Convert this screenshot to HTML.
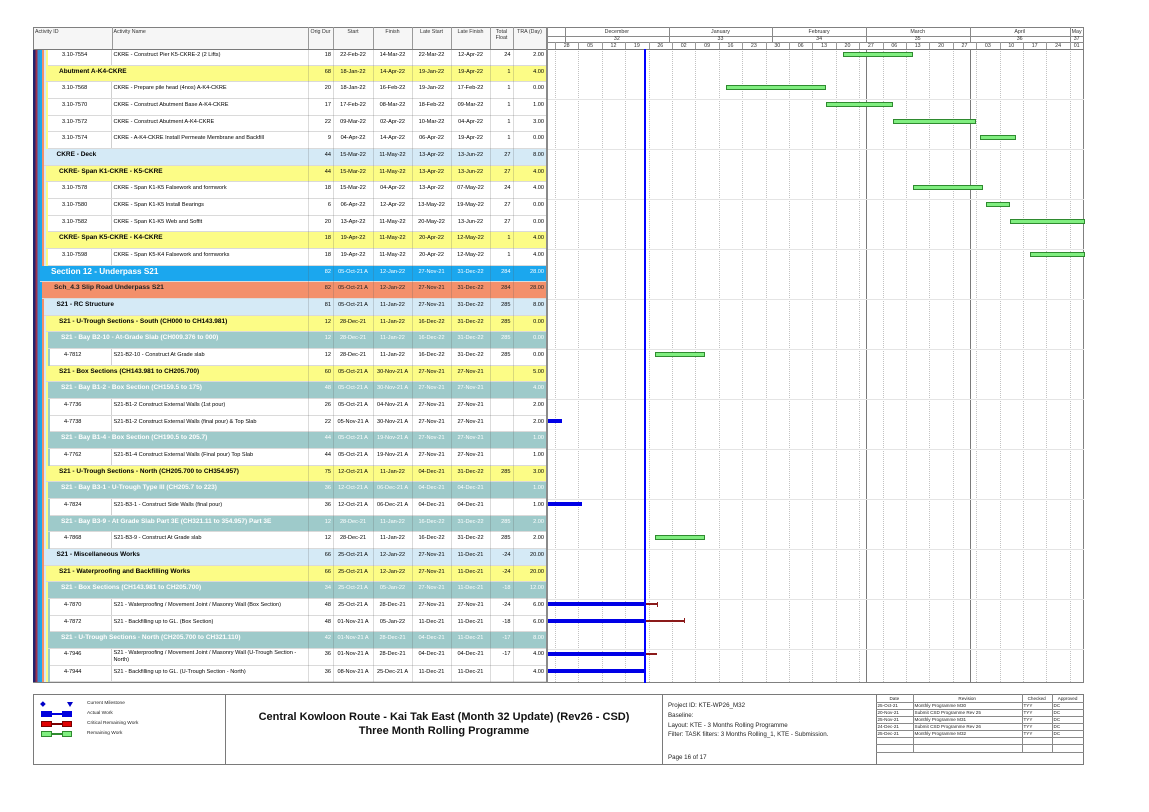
<!DOCTYPE html>
<html>
<head>
<meta charset="utf-8">
<style>
body{margin:0;background:#fff;}
#p{position:relative;width:1149px;height:812px;overflow:hidden;font-family:"Liberation Sans",Arial,sans-serif;color:#000;background:#fff;}
.a{position:absolute;}
.r{position:absolute;left:33px;width:513px;height:16.67px;box-sizing:border-box;border-bottom:1px solid #dadada;font-size:5.6px;}
.r span{position:absolute;top:2px;line-height:8px;white-space:nowrap;}
.bd{position:absolute;left:0;top:0;bottom:-1px;z-index:2;background:linear-gradient(90deg,#23226c 0 2.5px,#9c2f4e 2.5px 4.5px,#3790d6 4.5px 7px,#1ba7ee 7px 9px,#f3906b 9px 11px,#d5eaf6 11px 13px,#fcfc86 13px 15px,#9ecaca 15px 17px);}
.w{background-color:#fff;background-image:linear-gradient(90deg,transparent 78px,#d0d0d0 78px 79px,transparent 79px);}
.y{background:#fcfc86;}
.lb{background:#d5eaf6;}
.tl{background:#9ecaca;color:#fff;}
.sa{background:#f3906b;color:#222;}
.sc{background:#1ba7ee;color:#fff;}
.r span.g{font-weight:bold;font-size:6.5px;}
.r span.gs{font-weight:bold;font-size:6.8px;}
.r span.gx{font-weight:bold;font-size:8.2px;line-height:10px;top:1.5px;}
.r span.nm{left:80.5px;}
.r span.c2{left:275px;width:23px;text-align:right;}
.r span.c3{left:300px;width:40px;text-align:center;}
.r span.c4{left:340px;width:39px;text-align:center;}
.r span.c5{left:379px;width:39px;text-align:center;}
.r span.c6{left:418px;width:39px;text-align:center;}
.r span.c7{left:457px;width:20.5px;text-align:right;}
.r span.c8{left:480px;width:31px;text-align:right;}
.vd{position:absolute;top:49px;height:633.3px;width:1px;background:rgba(90,90,90,.22);z-index:3;}
.hv{position:absolute;top:27px;height:22px;width:1px;background:#9a9a9a;}
.ht{position:absolute;font-size:5.3px;line-height:6px;color:#333;white-space:nowrap;}
.wk{position:absolute;top:49px;height:633.3px;width:0;border-left:1px dotted #c2c2c2;}
.wh{position:absolute;top:42px;height:7px;width:1px;background:#9a9a9a;}
.mh{position:absolute;top:27px;height:15px;width:1px;background:#8a8a8a;}
.gl{position:absolute;left:546px;width:537.5px;height:1px;background:#e4e4e4;}
.gb{position:absolute;height:3px;background:#80ee80;border:1px solid #2f8a2f;}
.bb{position:absolute;height:4px;background:#0000e6;left:546px;}
.rl{position:absolute;height:1.5px;background:#8b1a1a;left:646px;}
.rc{position:absolute;width:1.5px;height:5px;background:#8b1a1a;}
.lt{position:absolute;font-size:4.8px;line-height:6px;color:#222;white-space:nowrap;}
.ft{position:absolute;font-size:6.2px;line-height:8px;color:#222;white-space:nowrap;left:668px;}
.rt{position:absolute;font-size:4.6px;line-height:7px;color:#222;white-space:nowrap;}
.rh{position:absolute;left:876px;width:207.5px;height:1px;background:#8a8a8a;}
</style>
</head>
<body>
<div id="p">

<!-- outer border -->
<div class="a" style="left:33px;top:27px;width:1050.5px;height:655.5px;border:1px solid #808080;box-sizing:border-box;"></div>
<!-- table header bg -->
<div class="a" style="left:34px;top:28px;width:512px;height:21px;background:#f6f6f6;"></div>
<div class="a" style="left:33px;top:49px;width:1050.5px;height:1px;background:#7a7a7a;z-index:4;"></div>
<!-- header dividers -->
<div class="hv" style="left:111.5px"></div>
<div class="hv" style="left:308px"></div>
<div class="hv" style="left:333px"></div>
<div class="hv" style="left:373px"></div>
<div class="hv" style="left:412px"></div>
<div class="hv" style="left:451px"></div>
<div class="hv" style="left:490px"></div>
<div class="hv" style="left:513px"></div>
<!-- header text -->
<div class="ht" style="left:35px;top:28.5px;">Activity ID</div>
<div class="ht" style="left:113.5px;top:28.5px;">Activity Name</div>
<div class="ht" style="left:308px;width:25px;text-align:center;top:28.5px;">Orig Dur</div>
<div class="ht" style="left:333px;width:40px;text-align:center;top:28.5px;">Start</div>
<div class="ht" style="left:373px;width:39px;text-align:center;top:28.5px;">Finish</div>
<div class="ht" style="left:412px;width:39px;text-align:center;top:28.5px;">Late Start</div>
<div class="ht" style="left:451px;width:39px;text-align:center;top:28.5px;">Late Finish</div>
<div class="ht" style="left:490px;width:23px;text-align:center;top:28.5px;">Total<br>Float</div>
<div class="ht" style="left:513px;width:33px;text-align:center;top:28.5px;">TRA (Day)</div>

<!-- gantt header lines -->
<div class="a" style="left:546px;top:27px;width:1.5px;height:655.5px;background:#8a8a8a;z-index:4;"></div>
<div class="a" style="left:546px;top:36px;width:537.5px;height:1px;background:#8a8a8a;"></div>
<div class="a" style="left:546px;top:42px;width:537.5px;height:1px;background:#8a8a8a;"></div>
<div class="mh" style="left:565px"></div>
<div class="mh" style="left:668.7px"></div>
<div class="mh" style="left:772.3px"></div>
<div class="mh" style="left:865.9px"></div>
<div class="mh" style="left:969.5px"></div>
<div class="mh" style="left:1069.8px"></div>
<div class="ht" style="left:565px;width:103.7px;text-align:center;top:28.5px;">December</div>
<div class="ht" style="left:668.7px;width:103.6px;text-align:center;top:28.5px;">January</div>
<div class="ht" style="left:772.3px;width:93.6px;text-align:center;top:28.5px;">February</div>
<div class="ht" style="left:865.9px;width:103.6px;text-align:center;top:28.5px;">March</div>
<div class="ht" style="left:969.5px;width:100.3px;text-align:center;top:28.5px;">April</div>
<div class="ht" style="left:1069.8px;width:13.7px;text-align:center;top:28.5px;">May</div>
<div class="ht" style="left:565px;width:103.7px;text-align:center;top:36.2px;">32</div>
<div class="ht" style="left:668.7px;width:103.6px;text-align:center;top:36.2px;">33</div>
<div class="ht" style="left:772.3px;width:93.6px;text-align:center;top:36.2px;">34</div>
<div class="ht" style="left:865.9px;width:103.6px;text-align:center;top:36.2px;">35</div>
<div class="ht" style="left:969.5px;width:100.3px;text-align:center;top:36.2px;">36</div>
<div class="ht" style="left:1069.8px;width:13.7px;text-align:center;top:36.2px;">37</div>

<!-- week header dividers and labels -->
<div class="wh" style="left:555px"></div><div class="wh" style="left:578.4px"></div><div class="wh" style="left:601.8px"></div><div class="wh" style="left:625.2px"></div><div class="wh" style="left:648.6px"></div><div class="wh" style="left:672px"></div><div class="wh" style="left:695.4px"></div><div class="wh" style="left:718.8px"></div><div class="wh" style="left:742.2px"></div><div class="wh" style="left:765.6px"></div><div class="wh" style="left:789px"></div><div class="wh" style="left:812.4px"></div><div class="wh" style="left:835.8px"></div><div class="wh" style="left:859.2px"></div><div class="wh" style="left:882.6px"></div><div class="wh" style="left:906px"></div><div class="wh" style="left:929.4px"></div><div class="wh" style="left:952.8px"></div><div class="wh" style="left:976.2px"></div><div class="wh" style="left:999.6px"></div><div class="wh" style="left:1023px"></div><div class="wh" style="left:1046.4px"></div><div class="wh" style="left:1069.8px"></div>
<div class="ht" style="top:42.7px;left:555px;width:23.4px;text-align:center;">28</div>
<div class="ht" style="top:42.7px;left:578.4px;width:23.4px;text-align:center;">05</div>
<div class="ht" style="top:42.7px;left:601.8px;width:23.4px;text-align:center;">12</div>
<div class="ht" style="top:42.7px;left:625.2px;width:23.4px;text-align:center;">19</div>
<div class="ht" style="top:42.7px;left:648.6px;width:23.4px;text-align:center;">26</div>
<div class="ht" style="top:42.7px;left:672px;width:23.4px;text-align:center;">02</div>
<div class="ht" style="top:42.7px;left:695.4px;width:23.4px;text-align:center;">09</div>
<div class="ht" style="top:42.7px;left:718.8px;width:23.4px;text-align:center;">16</div>
<div class="ht" style="top:42.7px;left:742.2px;width:23.4px;text-align:center;">23</div>
<div class="ht" style="top:42.7px;left:765.6px;width:23.4px;text-align:center;">30</div>
<div class="ht" style="top:42.7px;left:789px;width:23.4px;text-align:center;">06</div>
<div class="ht" style="top:42.7px;left:812.4px;width:23.4px;text-align:center;">13</div>
<div class="ht" style="top:42.7px;left:835.8px;width:23.4px;text-align:center;">20</div>
<div class="ht" style="top:42.7px;left:859.2px;width:23.4px;text-align:center;">27</div>
<div class="ht" style="top:42.7px;left:882.6px;width:23.4px;text-align:center;">06</div>
<div class="ht" style="top:42.7px;left:906px;width:23.4px;text-align:center;">13</div>
<div class="ht" style="top:42.7px;left:929.4px;width:23.4px;text-align:center;">20</div>
<div class="ht" style="top:42.7px;left:952.8px;width:23.4px;text-align:center;">27</div>
<div class="ht" style="top:42.7px;left:976.2px;width:23.4px;text-align:center;">03</div>
<div class="ht" style="top:42.7px;left:999.6px;width:23.4px;text-align:center;">10</div>
<div class="ht" style="top:42.7px;left:1023px;width:23.4px;text-align:center;">17</div>
<div class="ht" style="top:42.7px;left:1046.4px;width:23.4px;text-align:center;">24</div>
<div class="ht" style="top:42.7px;left:1069.8px;width:13.7px;text-align:center;">01</div>

<!-- gantt body grid -->
<div class="wk" style="left:555px"></div><div class="wk" style="left:578.4px"></div><div class="wk" style="left:601.8px"></div><div class="wk" style="left:625.2px"></div><div class="wk" style="left:648.6px"></div><div class="wk" style="left:672px"></div><div class="wk" style="left:695.4px"></div><div class="wk" style="left:718.8px"></div><div class="wk" style="left:742.2px"></div><div class="wk" style="left:765.6px"></div><div class="wk" style="left:789px"></div><div class="wk" style="left:812.4px"></div><div class="wk" style="left:835.8px"></div><div class="wk" style="left:859.2px"></div><div class="wk" style="left:882.6px"></div><div class="wk" style="left:906px"></div><div class="wk" style="left:929.4px"></div><div class="wk" style="left:952.8px"></div><div class="wk" style="left:976.2px"></div><div class="wk" style="left:999.6px"></div><div class="wk" style="left:1023px"></div><div class="wk" style="left:1046.4px"></div><div class="wk" style="left:1069.8px"></div>
<div class="a" style="left:865.9px;top:49px;width:1px;height:633.3px;background:#7a7a7a;"></div>
<div class="a" style="left:969.5px;top:49px;width:1px;height:633.3px;background:#7a7a7a;"></div>
<div class="gl" style="top:99px"></div><div class="gl" style="top:149px"></div><div class="gl" style="top:199px"></div><div class="gl" style="top:249px"></div><div class="gl" style="top:299px"></div><div class="gl" style="top:349px"></div><div class="gl" style="top:399px"></div><div class="gl" style="top:449px"></div><div class="gl" style="top:499px"></div><div class="gl" style="top:549px"></div><div class="gl" style="top:599px"></div><div class="gl" style="top:649px"></div>

<!-- table rows -->
<div class="r w" style="top:49px"><i class="bd" style="width:15px"></i><span style="left:29px">3.10-7554</span><span class="nm">CKRE - Construct Pier K5-CKRE-2 (2 Lifts)</span><span class="c2">18</span><span class="c3">22-Feb-22</span><span class="c4">14-Mar-22</span><span class="c5">22-Mar-22</span><span class="c6">12-Apr-22</span><span class="c7">24</span><span class="c8">2.00</span></div>
<div class="r y" style="top:65.67px"><i class="bd" style="width:13px"></i><span class="g" style="left:26px">Abutment A-K4-CKRE</span><span class="c2">68</span><span class="c3">18-Jan-22</span><span class="c4">14-Apr-22</span><span class="c5">19-Jan-22</span><span class="c6">19-Apr-22</span><span class="c7">1</span><span class="c8">4.00</span></div>
<div class="r w" style="top:82.33px"><i class="bd" style="width:15px"></i><span style="left:29px">3.10-7568</span><span class="nm">CKRE - Prepare pile head (4nos) A-K4-CKRE</span><span class="c2">20</span><span class="c3">18-Jan-22</span><span class="c4">16-Feb-22</span><span class="c5">19-Jan-22</span><span class="c6">17-Feb-22</span><span class="c7">1</span><span class="c8">0.00</span></div>
<div class="r w" style="top:99px"><i class="bd" style="width:15px"></i><span style="left:29px">3.10-7570</span><span class="nm">CKRE - Construct Abutment Base A-K4-CKRE</span><span class="c2">17</span><span class="c3">17-Feb-22</span><span class="c4">08-Mar-22</span><span class="c5">18-Feb-22</span><span class="c6">09-Mar-22</span><span class="c7">1</span><span class="c8">1.00</span></div>
<div class="r w" style="top:115.67px"><i class="bd" style="width:15px"></i><span style="left:29px">3.10-7572</span><span class="nm">CKRE - Construct Abutment A-K4-CKRE</span><span class="c2">22</span><span class="c3">09-Mar-22</span><span class="c4">02-Apr-22</span><span class="c5">10-Mar-22</span><span class="c6">04-Apr-22</span><span class="c7">1</span><span class="c8">3.00</span></div>
<div class="r w" style="top:132.33px"><i class="bd" style="width:15px"></i><span style="left:29px">3.10-7574</span><span class="nm">CKRE - A-K4-CKRE Install Permeate Membrane and Backfill</span><span class="c2">9</span><span class="c3">04-Apr-22</span><span class="c4">14-Apr-22</span><span class="c5">06-Apr-22</span><span class="c6">19-Apr-22</span><span class="c7">1</span><span class="c8">0.00</span></div>
<div class="r lb" style="top:149px"><i class="bd" style="width:11px"></i><span class="g" style="left:23.5px">CKRE - Deck</span><span class="c2">44</span><span class="c3">15-Mar-22</span><span class="c4">11-May-22</span><span class="c5">13-Apr-22</span><span class="c6">13-Jun-22</span><span class="c7">27</span><span class="c8">8.00</span></div>
<div class="r y" style="top:165.67px"><i class="bd" style="width:13px"></i><span class="g" style="left:26px">CKRE- Span K1-CKRE - K5-CKRE</span><span class="c2">44</span><span class="c3">15-Mar-22</span><span class="c4">11-May-22</span><span class="c5">13-Apr-22</span><span class="c6">13-Jun-22</span><span class="c7">27</span><span class="c8">4.00</span></div>
<div class="r w" style="top:182.33px"><i class="bd" style="width:15px"></i><span style="left:29px">3.10-7578</span><span class="nm">CKRE - Span K1-K5 Falsework and formwork</span><span class="c2">18</span><span class="c3">15-Mar-22</span><span class="c4">04-Apr-22</span><span class="c5">13-Apr-22</span><span class="c6">07-May-22</span><span class="c7">24</span><span class="c8">4.00</span></div>
<div class="r w" style="top:199px"><i class="bd" style="width:15px"></i><span style="left:29px">3.10-7580</span><span class="nm">CKRE - Span K1-K5 Install Bearings</span><span class="c2">6</span><span class="c3">06-Apr-22</span><span class="c4">12-Apr-22</span><span class="c5">13-May-22</span><span class="c6">19-May-22</span><span class="c7">27</span><span class="c8">0.00</span></div>
<div class="r w" style="top:215.67px"><i class="bd" style="width:15px"></i><span style="left:29px">3.10-7582</span><span class="nm">CKRE - Span K1-K5 Web and Soffit</span><span class="c2">20</span><span class="c3">13-Apr-22</span><span class="c4">11-May-22</span><span class="c5">20-May-22</span><span class="c6">13-Jun-22</span><span class="c7">27</span><span class="c8">0.00</span></div>
<div class="r y" style="top:232.33px"><i class="bd" style="width:13px"></i><span class="g" style="left:26px">CKRE- Span K5-CKRE - K4-CKRE</span><span class="c2">18</span><span class="c3">19-Apr-22</span><span class="c4">11-May-22</span><span class="c5">20-Apr-22</span><span class="c6">12-May-22</span><span class="c7">1</span><span class="c8">4.00</span></div>
<div class="r w" style="top:249px"><i class="bd" style="width:15px"></i><span style="left:29px">3.10-7598</span><span class="nm">CKRE - Span K5-K4 Falsework and formworks</span><span class="c2">18</span><span class="c3">19-Apr-22</span><span class="c4">11-May-22</span><span class="c5">20-Apr-22</span><span class="c6">12-May-22</span><span class="c7">1</span><span class="c8">4.00</span></div>
<div class="r sc" style="top:265.67px"><i class="bd" style="width:7px"></i><span class="gx" style="left:18px">Section 12 - Underpass S21</span><span class="c2">82</span><span class="c3">05-Oct-21 A</span><span class="c4">12-Jan-22</span><span class="c5">27-Nov-21</span><span class="c6">31-Dec-22</span><span class="c7">284</span><span class="c8">28.00</span></div>
<div class="r sa" style="top:282.33px"><i class="bd" style="width:9px"></i><span class="gs" style="left:21px">Sch_4.3 Slip Road Underpass S21</span><span class="c2">82</span><span class="c3">05-Oct-21 A</span><span class="c4">12-Jan-22</span><span class="c5">27-Nov-21</span><span class="c6">31-Dec-22</span><span class="c7">284</span><span class="c8">28.00</span></div>
<div class="r lb" style="top:299px"><i class="bd" style="width:11px"></i><span class="g" style="left:23.5px">S21 - RC Structure</span><span class="c2">81</span><span class="c3">05-Oct-21 A</span><span class="c4">11-Jan-22</span><span class="c5">27-Nov-21</span><span class="c6">31-Dec-22</span><span class="c7">285</span><span class="c8">8.00</span></div>
<div class="r y" style="top:315.67px"><i class="bd" style="width:13px"></i><span class="g" style="left:26px">S21 - U-Trough Sections - South (CH000 to CH143.981)</span><span class="c2">12</span><span class="c3">28-Dec-21</span><span class="c4">11-Jan-22</span><span class="c5">16-Dec-22</span><span class="c6">31-Dec-22</span><span class="c7">285</span><span class="c8">0.00</span></div>
<div class="r tl" style="top:332.33px"><i class="bd" style="width:15px"></i><span class="g" style="left:28px">S21 - Bay B2-10 - At-Grade Slab (CH009.376 to 000)</span><span class="c2">12</span><span class="c3">28-Dec-21</span><span class="c4">11-Jan-22</span><span class="c5">16-Dec-22</span><span class="c6">31-Dec-22</span><span class="c7">285</span><span class="c8">0.00</span></div>
<div class="r w" style="top:349px"><i class="bd" style="width:17px"></i><span style="left:31px">4-7812</span><span class="nm">S21-B2-10 - Construct At Grade slab</span><span class="c2">12</span><span class="c3">28-Dec-21</span><span class="c4">11-Jan-22</span><span class="c5">16-Dec-22</span><span class="c6">31-Dec-22</span><span class="c7">285</span><span class="c8">0.00</span></div>
<div class="r y" style="top:365.67px"><i class="bd" style="width:13px"></i><span class="g" style="left:26px">S21 - Box Sections (CH143.981 to CH205.700)</span><span class="c2">60</span><span class="c3">05-Oct-21 A</span><span class="c4">30-Nov-21 A</span><span class="c5">27-Nov-21</span><span class="c6">27-Nov-21</span><span class="c8">5.00</span></div>
<div class="r tl" style="top:382.33px"><i class="bd" style="width:15px"></i><span class="g" style="left:28px">S21 - Bay B1-2 - Box Section (CH159.5 to 175)</span><span class="c2">48</span><span class="c3">05-Oct-21 A</span><span class="c4">30-Nov-21 A</span><span class="c5">27-Nov-21</span><span class="c6">27-Nov-21</span><span class="c8">4.00</span></div>
<div class="r w" style="top:399px"><i class="bd" style="width:17px"></i><span style="left:31px">4-7736</span><span class="nm">S21-B1-2 Construct External Walls (1st pour)</span><span class="c2">26</span><span class="c3">05-Oct-21 A</span><span class="c4">04-Nov-21 A</span><span class="c5">27-Nov-21</span><span class="c6">27-Nov-21</span><span class="c8">2.00</span></div>
<div class="r w" style="top:415.67px"><i class="bd" style="width:17px"></i><span style="left:31px">4-7738</span><span class="nm">S21-B1-2 Construct External Walls (final pour) &amp; Top Slab</span><span class="c2">22</span><span class="c3">05-Nov-21 A</span><span class="c4">30-Nov-21 A</span><span class="c5">27-Nov-21</span><span class="c6">27-Nov-21</span><span class="c8">2.00</span></div>
<div class="r tl" style="top:432.33px"><i class="bd" style="width:15px"></i><span class="g" style="left:28px">S21 - Bay B1-4 - Box Section (CH190.5 to 205.7)</span><span class="c2">44</span><span class="c3">05-Oct-21 A</span><span class="c4">19-Nov-21 A</span><span class="c5">27-Nov-21</span><span class="c6">27-Nov-21</span><span class="c8">1.00</span></div>
<div class="r w" style="top:449px"><i class="bd" style="width:17px"></i><span style="left:31px">4-7762</span><span class="nm">S21-B1-4 Construct External Walls (Final pour) Top Slab</span><span class="c2">44</span><span class="c3">05-Oct-21 A</span><span class="c4">19-Nov-21 A</span><span class="c5">27-Nov-21</span><span class="c6">27-Nov-21</span><span class="c8">1.00</span></div>
<div class="r y" style="top:465.67px"><i class="bd" style="width:13px"></i><span class="g" style="left:26px">S21 - U-Trough Sections - North (CH205.700 to CH354.957)</span><span class="c2">75</span><span class="c3">12-Oct-21 A</span><span class="c4">11-Jan-22</span><span class="c5">04-Dec-21</span><span class="c6">31-Dec-22</span><span class="c7">285</span><span class="c8">3.00</span></div>
<div class="r tl" style="top:482.33px"><i class="bd" style="width:15px"></i><span class="g" style="left:28px">S21 - Bay B3-1 - U-Trough Type III (CH205.7 to 223)</span><span class="c2">36</span><span class="c3">12-Oct-21 A</span><span class="c4">06-Dec-21 A</span><span class="c5">04-Dec-21</span><span class="c6">04-Dec-21</span><span class="c8">1.00</span></div>
<div class="r w" style="top:499px"><i class="bd" style="width:17px"></i><span style="left:31px">4-7824</span><span class="nm">S21-B3-1 - Construct Side Walls (final pour)</span><span class="c2">36</span><span class="c3">12-Oct-21 A</span><span class="c4">06-Dec-21 A</span><span class="c5">04-Dec-21</span><span class="c6">04-Dec-21</span><span class="c8">1.00</span></div>
<div class="r tl" style="top:515.67px"><i class="bd" style="width:15px"></i><span class="g" style="left:28px">S21 - Bay B3-9 - At Grade Slab Part 3E (CH321.11 to 354.957) Part 3E</span><span class="c2">12</span><span class="c3">28-Dec-21</span><span class="c4">11-Jan-22</span><span class="c5">16-Dec-22</span><span class="c6">31-Dec-22</span><span class="c7">285</span><span class="c8">2.00</span></div>
<div class="r w" style="top:532.33px"><i class="bd" style="width:17px"></i><span style="left:31px">4-7868</span><span class="nm">S21-B3-9 - Construct At Grade slab</span><span class="c2">12</span><span class="c3">28-Dec-21</span><span class="c4">11-Jan-22</span><span class="c5">16-Dec-22</span><span class="c6">31-Dec-22</span><span class="c7">285</span><span class="c8">2.00</span></div>
<div class="r lb" style="top:549px"><i class="bd" style="width:11px"></i><span class="g" style="left:23.5px">S21 - Miscellaneous Works</span><span class="c2">66</span><span class="c3">25-Oct-21 A</span><span class="c4">12-Jan-22</span><span class="c5">27-Nov-21</span><span class="c6">11-Dec-21</span><span class="c7">-24</span><span class="c8">20.00</span></div>
<div class="r y" style="top:565.67px"><i class="bd" style="width:13px"></i><span class="g" style="left:26px">S21 - Waterproofing and Backfilling Works</span><span class="c2">66</span><span class="c3">25-Oct-21 A</span><span class="c4">12-Jan-22</span><span class="c5">27-Nov-21</span><span class="c6">11-Dec-21</span><span class="c7">-24</span><span class="c8">20.00</span></div>
<div class="r tl" style="top:582.33px"><i class="bd" style="width:15px"></i><span class="g" style="left:28px">S21 - Box Sections (CH143.981 to CH205.700)</span><span class="c2">34</span><span class="c3">25-Oct-21 A</span><span class="c4">05-Jan-22</span><span class="c5">27-Nov-21</span><span class="c6">11-Dec-21</span><span class="c7">-18</span><span class="c8">12.00</span></div>
<div class="r w" style="top:599px"><i class="bd" style="width:17px"></i><span style="left:31px">4-7870</span><span class="nm">S21 - Waterproofing / Movement Joint / Masonry Wall (Box Section)</span><span class="c2">48</span><span class="c3">25-Oct-21 A</span><span class="c4">28-Dec-21</span><span class="c5">27-Nov-21</span><span class="c6">27-Nov-21</span><span class="c7">-24</span><span class="c8">6.00</span></div>
<div class="r w" style="top:615.67px"><i class="bd" style="width:17px"></i><span style="left:31px">4-7872</span><span class="nm">S21 - Backfilling up to GL. (Box Section)</span><span class="c2">48</span><span class="c3">01-Nov-21 A</span><span class="c4">05-Jan-22</span><span class="c5">11-Dec-21</span><span class="c6">11-Dec-21</span><span class="c7">-18</span><span class="c8">6.00</span></div>
<div class="r tl" style="top:632.33px"><i class="bd" style="width:15px"></i><span class="g" style="left:28px">S21 - U-Trough Sections - North (CH205.700 to CH321.110)</span><span class="c2">42</span><span class="c3">01-Nov-21 A</span><span class="c4">28-Dec-21</span><span class="c5">04-Dec-21</span><span class="c6">11-Dec-21</span><span class="c7">-17</span><span class="c8">8.00</span></div>
<div class="r w" style="top:649px"><i class="bd" style="width:17px"></i><span style="left:31px;top:0.5px;">4-7946</span><span class="nm" style="top:0.5px;line-height:7.5px;">S21 - Waterproofing / Movement Joint / Masonry Wall (U-Trough Section -<br>North)</span><span class="c2" style="top:0.5px">36</span><span class="c3" style="top:0.5px">01-Nov-21 A</span><span class="c4" style="top:0.5px">28-Dec-21</span><span class="c5" style="top:0.5px">04-Dec-21</span><span class="c6" style="top:0.5px">04-Dec-21</span><span class="c7" style="top:0.5px">-17</span><span class="c8" style="top:0.5px">4.00</span></div>
<div class="r w" style="top:665.67px"><i class="bd" style="width:17px"></i><span style="left:31px">4-7944</span><span class="nm">S21 - Backfilling up to GL. (U-Trough Section - North)</span><span class="c2">36</span><span class="c3">08-Nov-21 A</span><span class="c4">25-Dec-21 A</span><span class="c5">11-Dec-21</span><span class="c6">11-Dec-21</span><span class="c8">4.00</span></div>

<!-- table vertical dividers -->
<div class="vd" style="left:308px"></div>
<div class="vd" style="left:333px"></div>
<div class="vd" style="left:373px"></div>
<div class="vd" style="left:412px"></div>
<div class="vd" style="left:451px"></div>
<div class="vd" style="left:490px"></div>
<div class="vd" style="left:513px"></div>

<!-- green remaining bars -->
<div class="gb" style="left:842.5px;top:52px;width:68.2px"></div>
<div class="gb" style="left:725.5px;top:85.33px;width:98.3px"></div>
<div class="gb" style="left:825.8px;top:102px;width:64.8px"></div>
<div class="gb" style="left:892.6px;top:118.67px;width:81.6px"></div>
<div class="gb" style="left:979.6px;top:135.33px;width:34.7px"></div>
<div class="gb" style="left:912.7px;top:185.33px;width:68.2px"></div>
<div class="gb" style="left:986.2px;top:202px;width:21.4px"></div>
<div class="gb" style="left:1009.6px;top:218.67px;width:73px"></div>
<div class="gb" style="left:1029.7px;top:252px;width:52.9px"></div>
<div class="gb" style="left:655.3px;top:352px;width:48.1px"></div>
<div class="gb" style="left:655.3px;top:535.33px;width:48.1px"></div>

<!-- blue actual bars -->
<div class="bb" style="top:418.67px;width:16px"></div>
<div class="bb" style="top:502px;width:36px"></div>
<div class="bb" style="top:602px;width:99px"></div>
<div class="bb" style="top:618.67px;width:99px"></div>
<div class="bb" style="top:652px;width:99px"></div>
<div class="bb" style="top:668.67px;width:99px"></div>

<!-- critical remaining thin lines -->
<div class="rl" style="top:603.3px;width:11.5px"></div><div class="rc" style="left:656.5px;top:601.5px"></div>
<div class="rl" style="top:620px;width:38.5px"></div><div class="rc" style="left:683.5px;top:618.2px"></div>
<div class="rl" style="top:653.3px;width:10.5px"></div>

<!-- data date line -->
<div class="a" style="left:644.4px;top:49px;width:1.9px;height:633.5px;background:#0000ff;z-index:6;"></div>

<!-- FOOTER -->
<div class="a" style="left:33px;top:694px;width:1050.5px;height:71px;border:1px solid #7a7a7a;box-sizing:border-box;"></div>
<div class="a" style="left:225px;top:694px;width:1px;height:71px;background:#7a7a7a;"></div>
<div class="a" style="left:662px;top:694px;width:1px;height:71px;background:#7a7a7a;"></div>
<div class="a" style="left:876px;top:694px;width:1px;height:71px;background:#7a7a7a;"></div>

<!-- legend -->
<div class="a" style="left:41.2px;top:702.2px;width:3.8px;height:3.8px;background:#0000c8;transform:rotate(45deg);"></div>
<div class="a" style="left:66.5px;top:702px;width:0;height:0;border-left:3px solid transparent;border-right:3px solid transparent;border-top:5px solid #0000c8;"></div>
<div class="lt" style="left:87px;top:701px;">Current Milestone</div>

<div class="a" style="left:41px;top:711.2px;width:11px;height:5.5px;background:#0000dd;"></div>
<div class="a" style="left:52px;top:713.3px;width:10px;height:1.5px;background:#0000dd;"></div>
<div class="a" style="left:62px;top:711.2px;width:10px;height:5.5px;background:#0000dd;"></div>
<div class="lt" style="left:87px;top:711px;">Actual Work</div>

<div class="a" style="left:41px;top:721.2px;width:11px;height:5.5px;background:#e00000;box-sizing:border-box;border:1px solid #7a0000;"></div>
<div class="a" style="left:52px;top:723.3px;width:10px;height:1.5px;background:#7a0000;"></div>
<div class="a" style="left:62px;top:721.2px;width:10px;height:5.5px;background:#e00000;box-sizing:border-box;border:1px solid #7a0000;"></div>
<div class="lt" style="left:87px;top:721px;">Critical Remaining Work</div>

<div class="a" style="left:41px;top:731.2px;width:11px;height:5.5px;background:#80ee80;box-sizing:border-box;border:1px solid #2f8a2f;"></div>
<div class="a" style="left:52px;top:733.3px;width:10px;height:1.5px;background:#2f8a2f;"></div>
<div class="a" style="left:62px;top:731.2px;width:10px;height:5.5px;background:#80ee80;box-sizing:border-box;border:1px solid #2f8a2f;"></div>
<div class="lt" style="left:87px;top:731px;">Remaining Work</div>

<!-- title -->
<div class="a" style="left:226px;width:436px;top:710px;text-align:center;font-weight:bold;font-size:11px;line-height:14px;color:#111;white-space:nowrap;">Central Kowloon Route - Kai Tak East (Month 32 Update) (Rev26 - CSD)<br>Three Month Rolling Programme</div>

<!-- project info -->
<div class="ft" style="top:702px;">Project ID: KTE-WP26_M32</div>
<div class="ft" style="top:712px;">Baseline:</div>
<div class="ft" style="top:722px;">Layout: KTE - 3 Months Rolling Programme</div>
<div class="ft" style="top:731px;">Filter: TASK filters: 3 Months Rolling_1, KTE - Submission.</div>
<div class="ft" style="top:754px;">Page 16 of 17</div>

<!-- revision table -->
<div class="rh" style="top:702px"></div>
<div class="rh" style="top:709px"></div>
<div class="rh" style="top:716px"></div>
<div class="rh" style="top:723px"></div>
<div class="rh" style="top:730px"></div>
<div class="rh" style="top:737px"></div>
<div class="rh" style="top:744px"></div>
<div class="rh" style="top:752px"></div>
<div class="a" style="left:912.7px;top:694px;width:1px;height:58px;background:#8a8a8a;"></div>
<div class="a" style="left:1021.7px;top:694px;width:1px;height:58px;background:#8a8a8a;"></div>
<div class="a" style="left:1051.7px;top:694px;width:1px;height:58px;background:#8a8a8a;"></div>
<div class="rt" style="left:876px;width:36.7px;text-align:center;top:694.7px;">Date</div>
<div class="rt" style="left:912.7px;width:109px;text-align:center;top:694.7px;">Revision</div>
<div class="rt" style="left:1021.7px;width:30px;text-align:center;top:694.7px;">Checked</div>
<div class="rt" style="left:1051.7px;width:31.8px;text-align:center;top:694.7px;">Approved</div>

<div class="rt" style="left:877.5px;top:702.3px;">25-Oct-21</div><div class="rt" style="left:914.5px;top:702.3px;">Monthly Programme M30</div><div class="rt" style="left:1023.5px;top:702.3px;">TYY</div><div class="rt" style="left:1053.5px;top:702.3px;">DC</div>
<div class="rt" style="left:877.5px;top:709.3px;">20-Nov-21</div><div class="rt" style="left:914.5px;top:709.3px;">Submit CSD Programme Rev 25</div><div class="rt" style="left:1023.5px;top:709.3px;">TYY</div><div class="rt" style="left:1053.5px;top:709.3px;">DC</div>
<div class="rt" style="left:877.5px;top:716.3px;">25-Nov-21</div><div class="rt" style="left:914.5px;top:716.3px;">Monthly Programme M31</div><div class="rt" style="left:1023.5px;top:716.3px;">TYY</div><div class="rt" style="left:1053.5px;top:716.3px;">DC</div>
<div class="rt" style="left:877.5px;top:723.3px;">24-Dec-21</div><div class="rt" style="left:914.5px;top:723.3px;">Submit CSD Programme Rev 26</div><div class="rt" style="left:1023.5px;top:723.3px;">TYY</div><div class="rt" style="left:1053.5px;top:723.3px;">DC</div>
<div class="rt" style="left:877.5px;top:730.3px;">25-Dec-21</div><div class="rt" style="left:914.5px;top:730.3px;">Monthly Programme M32</div><div class="rt" style="left:1023.5px;top:730.3px;">TYY</div><div class="rt" style="left:1053.5px;top:730.3px;">DC</div>

</div>
</body>
</html>
